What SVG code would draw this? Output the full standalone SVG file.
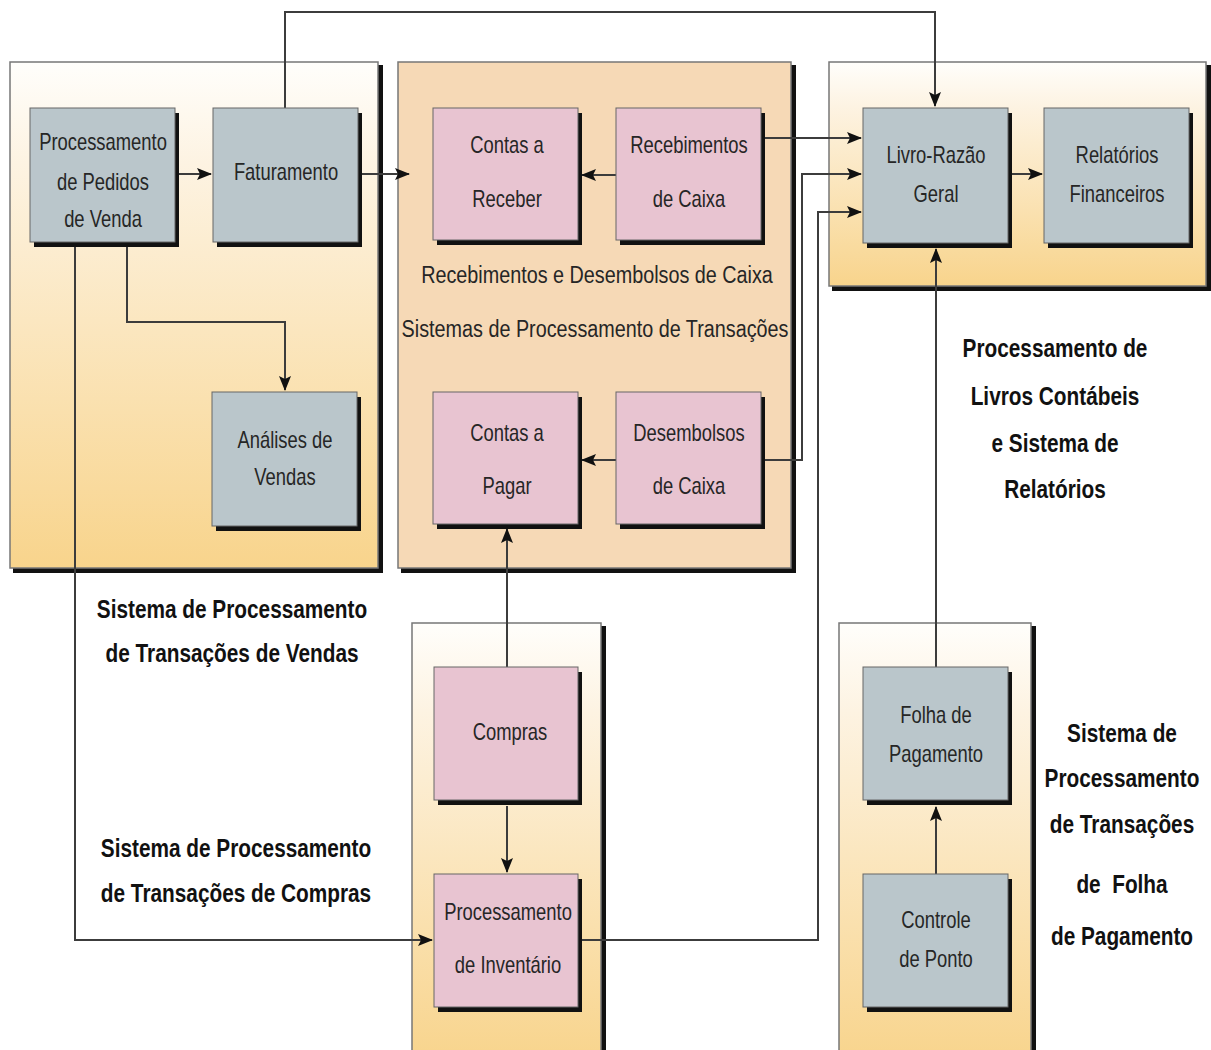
<svg xmlns="http://www.w3.org/2000/svg" width="1211" height="1050" viewBox="0 0 1211 1050">
<defs>
<linearGradient id="gOr" x1="0" y1="0" x2="0" y2="1">
<stop offset="0" stop-color="#fffefb"/>
<stop offset="0.2" stop-color="#fdf3e2"/>
<stop offset="1" stop-color="#f8d48c"/>
</linearGradient>
<marker id="ah" markerUnits="userSpaceOnUse" markerWidth="16" markerHeight="12" refX="14" refY="6" orient="auto">
<path d="M0,0 L15,6 L0,12 L3,6 z" fill="#111"/>
</marker>
<style>
.grp{stroke:#777;stroke-width:1.5}
.gsh{fill:#111}
.og{fill:url(#gOr)}
.pc{fill:#f6d9b6}
.nsh{fill:#111}
.gb{fill:#bac6cb;stroke:#666;stroke-width:1}
.pk{fill:#e8c4d1;stroke:#666;stroke-width:1}
.t{font-family:"Liberation Sans",Arial,sans-serif;font-size:23px;fill:#262626;text-anchor:middle}
.b{font-family:"Liberation Sans",Arial,sans-serif;font-size:26px;font-weight:bold;fill:#111;text-anchor:middle}
.c{fill:none;stroke:#3c3c3c;stroke-width:2}
</style>
</defs>

<g id="groups">
<g id="grp-vendas">
<rect class="gsh" x="13" y="65" width="370" height="508"/>
<rect class="grp og" x="10" y="62" width="368" height="506"/>
</g>
<g id="grp-caixa">
<rect class="gsh" x="401" y="65" width="395" height="508"/>
<rect class="grp pc" x="398" y="62" width="393" height="506"/>
</g>
<g id="grp-livros">
<rect class="gsh" x="832" y="65" width="379" height="226"/>
<rect class="grp og" x="829" y="62" width="377" height="224"/>
</g>
<g id="grp-compras">
<rect class="gsh" x="415" y="626" width="191" height="440"/>
<rect class="grp og" x="412" y="623" width="189" height="440"/>
</g>
<g id="grp-folha">
<rect class="gsh" x="842" y="626" width="194" height="440"/>
<rect class="grp og" x="839" y="623" width="192" height="440"/>
</g>
</g>

<g id="connectors">
<path class="c" d="M177,174 H211" marker-end="url(#ah)"/>
<path class="c" d="M361,174 H409" marker-end="url(#ah)"/>
<path class="c" d="M285,108 V12 H935 V106" marker-end="url(#ah)"/>
<path class="c" d="M616,175 H582" marker-end="url(#ah)"/>
<path class="c" d="M765,138 H861" marker-end="url(#ah)"/>
<path class="c" d="M765,460 H802 V174 H861" marker-end="url(#ah)"/>
<path class="c" d="M582,940 H818 V212 H861" marker-end="url(#ah)"/>
<path class="c" d="M616,460 H582" marker-end="url(#ah)"/>
<path class="c" d="M507,667 V529" marker-end="url(#ah)"/>
<path class="c" d="M507,806 V872" marker-end="url(#ah)"/>
<path class="c" d="M127,245 V322 H285 V390" marker-end="url(#ah)"/>
<path class="c" d="M75,245 V940 H432" marker-end="url(#ah)"/>
<path class="c" d="M936,874 V807" marker-end="url(#ah)"/>
<path class="c" d="M936,667 V249" marker-end="url(#ah)"/>
<path class="c" d="M1012,174 H1042" marker-end="url(#ah)"/>
</g>

<g id="n-pedidos">
<rect class="nsh" x="34" y="113" width="145" height="134"/>
<rect class="gb" x="30" y="108" width="145" height="134"/>
<text class="t" transform="translate(103,150) scale(0.8,1)"><tspan x="0" y="0">Processamento</tspan><tspan x="0" y="40">de Pedidos</tspan><tspan x="0" y="77">de Venda</tspan></text>
</g>
<g id="n-faturamento">
<rect class="nsh" x="217" y="113" width="145" height="134"/>
<rect class="gb" x="213" y="108" width="145" height="134"/>
<text class="t" transform="translate(286,180) scale(0.8,1)">Faturamento</text>
</g>
<g id="n-analises">
<rect class="nsh" x="216" y="397" width="145" height="134"/>
<rect class="gb" x="212" y="392" width="145" height="134"/>
<text class="t" transform="translate(285,448) scale(0.8,1)"><tspan x="0" y="0">Análises de</tspan><tspan x="0" y="37">Vendas</tspan></text>
</g>
<g id="n-contas-receber">
<rect class="nsh" x="437" y="113" width="145" height="132"/>
<rect class="pk" x="433" y="108" width="145" height="132"/>
<text class="t" transform="translate(507,153) scale(0.8,1)"><tspan x="0" y="0">Contas a</tspan><tspan x="0" y="54">Receber</tspan></text>
</g>
<g id="n-recebimentos">
<rect class="nsh" x="620" y="113" width="145" height="132"/>
<rect class="pk" x="616" y="108" width="145" height="132"/>
<text class="t" transform="translate(689,153) scale(0.8,1)"><tspan x="0" y="0">Recebimentos</tspan><tspan x="0" y="54">de Caixa</tspan></text>
</g>
<g id="n-contas-pagar">
<rect class="nsh" x="437" y="397" width="145" height="132"/>
<rect class="pk" x="433" y="392" width="145" height="132"/>
<text class="t" transform="translate(507,441) scale(0.8,1)"><tspan x="0" y="0">Contas a</tspan><tspan x="0" y="53">Pagar</tspan></text>
</g>
<g id="n-desembolsos">
<rect class="nsh" x="620" y="397" width="145" height="132"/>
<rect class="pk" x="616" y="392" width="145" height="132"/>
<text class="t" transform="translate(689,441) scale(0.8,1)"><tspan x="0" y="0">Desembolsos</tspan><tspan x="0" y="53">de Caixa</tspan></text>
</g>
<g id="n-livro">
<rect class="nsh" x="867" y="113" width="145" height="135"/>
<rect class="gb" x="863" y="108" width="145" height="135"/>
<text class="t" transform="translate(936,163) scale(0.8,1)"><tspan x="0" y="0">Livro-Razão</tspan><tspan x="0" y="39">Geral</tspan></text>
</g>
<g id="n-relatorios">
<rect class="nsh" x="1048" y="113" width="145" height="135"/>
<rect class="gb" x="1044" y="108" width="145" height="135"/>
<text class="t" transform="translate(1117,163) scale(0.8,1)"><tspan x="0" y="0">Relatórios</tspan><tspan x="0" y="39">Financeiros</tspan></text>
</g>
<g id="n-compras">
<rect class="nsh" x="438" y="672" width="144" height="133"/>
<rect class="pk" x="434" y="667" width="144" height="133"/>
<text class="t" transform="translate(510,740) scale(0.8,1)">Compras</text>
</g>
<g id="n-inventario">
<rect class="nsh" x="438" y="879" width="144" height="133"/>
<rect class="pk" x="434" y="874" width="144" height="133"/>
<text class="t" transform="translate(508,920) scale(0.8,1)"><tspan x="0" y="0">Processamento</tspan><tspan x="0" y="53">de Inventário</tspan></text>
</g>
<g id="n-folha">
<rect class="nsh" x="867" y="672" width="145" height="133"/>
<rect class="gb" x="863" y="667" width="145" height="133"/>
<text class="t" transform="translate(936,723) scale(0.8,1)"><tspan x="0" y="0">Folha de</tspan><tspan x="0" y="39">Pagamento</tspan></text>
</g>
<g id="n-ponto">
<rect class="nsh" x="867" y="879" width="145" height="133"/>
<rect class="gb" x="863" y="874" width="145" height="133"/>
<text class="t" transform="translate(936,928) scale(0.8,1)"><tspan x="0" y="0">Controle</tspan><tspan x="0" y="39">de Ponto</tspan></text>
</g>

<g id="labels">
<text class="t" transform="translate(597,283) scale(0.86,1)">Recebimentos e Desembolsos de Caixa</text>
<text class="t" transform="translate(595,337) scale(0.86,1)">Sistemas de Processamento de Transações</text>
<text class="b" transform="translate(232,618) scale(0.8,1)"><tspan x="0" y="0">Sistema de Processamento</tspan><tspan x="0" y="44">de Transações de Vendas</tspan></text>
<text class="b" transform="translate(236,857) scale(0.8,1)"><tspan x="0" y="0">Sistema de Processamento</tspan><tspan x="0" y="45">de Transações de Compras</tspan></text>
<text class="b" transform="translate(1055,357) scale(0.8,1)"><tspan x="0" y="0">Processamento de</tspan><tspan x="0" y="48">Livros Contábeis</tspan><tspan x="0" y="95">e Sistema de</tspan><tspan x="0" y="141">Relatórios</tspan></text>
<text class="b" transform="translate(1122,742) scale(0.8,1)" xml:space="preserve"><tspan x="0" y="0">Sistema de</tspan><tspan x="0" y="45">Processamento</tspan><tspan x="0" y="91">de Transações</tspan><tspan x="0" y="151">de  Folha</tspan><tspan x="0" y="203">de Pagamento</tspan></text>
</g>
</svg>
